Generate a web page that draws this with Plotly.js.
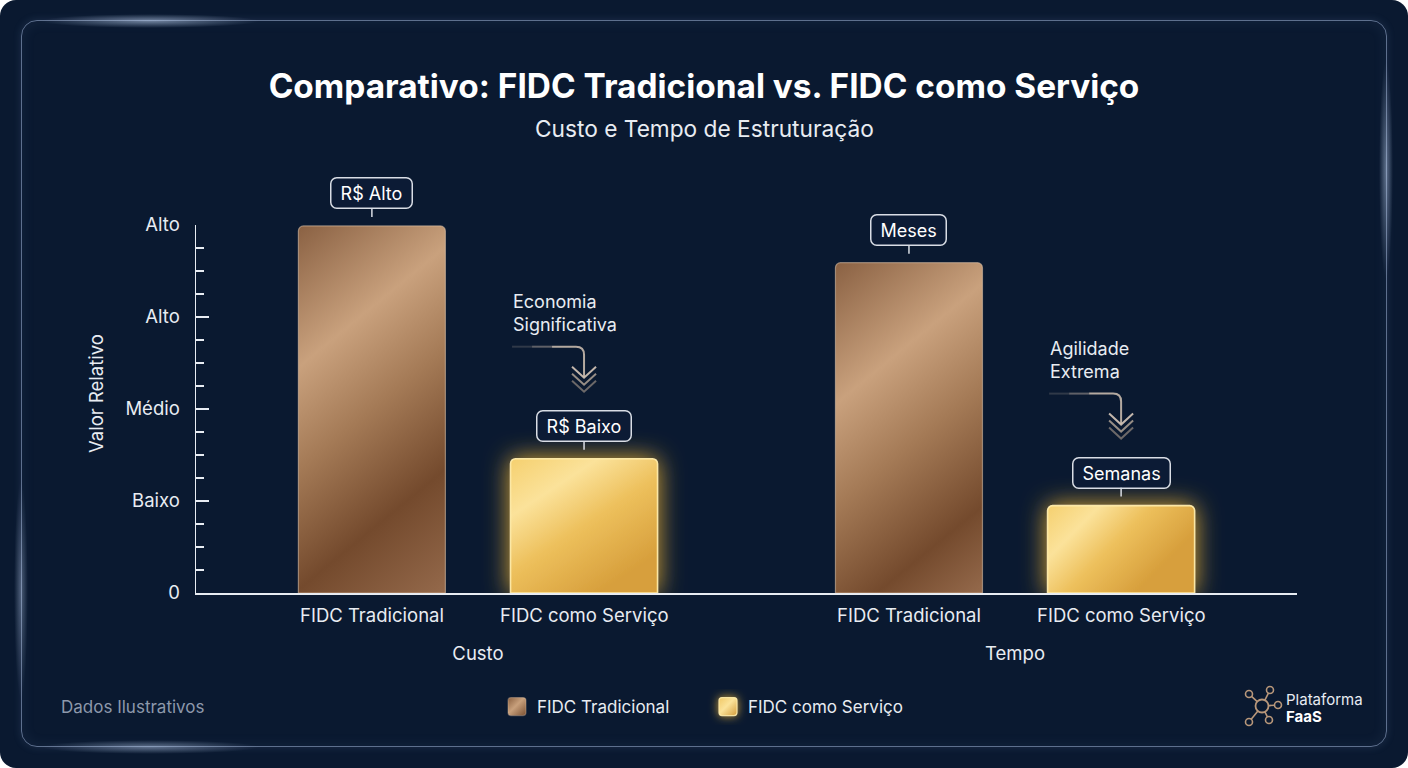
<!DOCTYPE html>
<html>
<head>
<meta charset="utf-8">
<script src="https://cdn.plot.ly/plotly-3.0.1.min.js"></script>
<style>
  html, body { margin:0; padding:0; background:#ffffff; width:1408px; height:768px; overflow:hidden; }
  #card { position:absolute; left:0; top:0; width:1408px; height:768px; border-radius:16px; background:#0a1930; overflow:hidden; }
  #frame { position:absolute; left:21px; top:20px; width:1364px; height:725px; border:1.5px solid rgba(150,170,205,0.6); border-radius:16px;
           box-shadow: 0 0 8px rgba(120,150,200,0.18), inset 0 0 14px rgba(120,150,200,0.10); }
  .glow { position:absolute; border-radius:50%; pointer-events:none; }
  #chart { position:absolute; left:0; top:0; width:1408px; height:768px; }
</style>
</head>
<body>
<div id="card">
  <div id="frame"></div>
  <div class="glow" style="left:40px;top:14px;width:220px;height:14px;background:radial-gradient(ellipse at center, rgba(190,210,240,0.55), rgba(190,210,240,0) 70%);"></div>
  <div class="glow" style="left:40px;top:740px;width:220px;height:14px;background:radial-gradient(ellipse at center, rgba(190,210,240,0.45), rgba(190,210,240,0) 70%);"></div>
  <div class="glow" style="left:1379px;top:60px;width:14px;height:220px;background:radial-gradient(ellipse at center, rgba(190,210,240,0.45), rgba(190,210,240,0) 70%);"></div>
  <div class="glow" style="left:14px;top:480px;width:14px;height:220px;background:radial-gradient(ellipse at center, rgba(190,210,240,0.35), rgba(190,210,240,0) 70%);"></div>
  <div id="chart"></div>
</div>
<script>
// ---------------- DATA ----------------
const categories = ['Custo', 'Tempo'];
const seriesNames = ['FIDC Tradicional', 'FIDC como Serviço'];
const tradicionalValues = [3.99, 3.59];
const servicoValues = [1.46, 0.95];
const calloutTradicional = ['R$ Alto', 'Meses'];
const calloutServico = ['R$ Baixo', 'Semanas'];
const highlightNotes = ['Economia<br>Significativa', 'Agilidade<br>Extrema'];
const yTickVals = [0, 1, 2, 3, 4];
const yTickText = ['0', 'Baixo', 'Médio', 'Alto', 'Alto'];
const titleText = 'Comparativo: FIDC Tradicional vs. FIDC como Serviço';
const subtitleText = 'Custo e Tempo de Estruturação';
const yAxisTitle = 'Valor Relativo';
const footnoteText = 'Dados Ilustrativos';
const brandLine1 = 'Plataforma';
const brandLine2 = 'FaaS';

// ---------------- LAYOUT CONSTANTS ----------------
const W = 1408, H = 768;
const M = {l:196, r:111, t:225, b:175};
const plotW = W - M.l - M.r, plotH = H - M.t - M.b;
const xRange = [-0.525, 1.525];
const BARGAP = 0.21, GROUPGAP = 0.307;
const pxPerUnit = plotW / (xRange[1] - xRange[0]);
const slot = (1 - BARGAP) / 2;
const offset = slot / 2;
const halfBarPx = slot * (1 - GROUPGAP) / 2 * pxPerUnit;
const FONT = 'Inter, "Noto Sans", Roboto, sans-serif';
const TXT = '#e8ecf2';
const px2paperX = (px) => (px - M.l) / plotW;
const px2paperY = (py) => (H - M.b - py) / plotH;

const traceDefs = [
  {name: seriesNames[0], y: tradicionalValues, line: 'rgba(228,198,170,0.55)', lw: 1.2, fill: '#a57b57', sign: -1, callouts: calloutTradicional},
  {name: seriesNames[1], y: servicoValues, line: 'rgba(255,236,170,0.95)', lw: 1.6, fill: '#ecc25e', sign: 1, callouts: calloutServico}
];

const data = traceDefs.map(t => ({
  type: 'bar', name: t.name, x: categories, y: t.y,
  marker: {color: t.fill, line: {color: t.line, width: t.lw}, cornerradius: 5},
  hoverinfo: 'skip'
}));

const annotations = [];
const shapes = [];

// bar sub-labels, callouts
traceDefs.forEach((t) => {
  categories.forEach((c, i) => {
    const xp = i + t.sign * offset;
    annotations.push({xref:'x', yref:'paper', x: xp, y: 0, xanchor:'center', yanchor:'top', yshift: -9, showarrow:false,
      text: t.name, font:{family:FONT, size:18.5, color:TXT}});
    annotations.push({xref:'x', yref:'y', x: xp, y: t.y[i], showarrow:true, ax:0, ay:-33, standoff:9,
      arrowhead:0, arrowwidth:1.5, arrowcolor:'#d9dde5',
      text: '\u00a0' + t.callouts[i] + '\u00a0', font:{family:FONT, size:18, color:'#ffffff'},
      bordercolor:'#d9dde5', borderwidth:1.5, borderpad:4, bgcolor:'#0c1b35'});
  });
});

// highlight notes with decorative arrows, anchored to the service bars
categories.forEach((c, i) => {
  const xp = i + offset;
  const yv = servicoValues[i];
  annotations.push({xref:'x', yref:'y', x: xp, y: yv, xshift: -halfBarPx, yshift: 146, xanchor:'left', yanchor:'middle',
    align:'left', showarrow:false, text: highlightNotes[i], font:{family:FONT, size:18, color:TXT}});
  const base = {type:'path', xref:'x', yref:'y', xsizemode:'pixel', ysizemode:'pixel', xanchor: xp, yanchor: yv, layer:'above'};
  shapes.push(Object.assign({}, base, {path:'M-72,112 L-52,112', line:{color:'rgba(200,185,170,0.2)', width:2}}));
  shapes.push(Object.assign({}, base, {path:'M-52,112 L-32,112', line:{color:'rgba(200,185,170,0.45)', width:2}}));
  shapes.push(Object.assign({}, base, {path:'M-32,112 L-8,112 Q0,112 0,104 L0,82', line:{color:'rgba(210,195,180,0.85)', width:2}}));
  shapes.push(Object.assign({}, base, {path:'M-12,92 L0,81 L12,92', line:{color:'rgba(215,200,185,0.9)', width:2}}));
  shapes.push(Object.assign({}, base, {path:'M-12,85 L0,74 L12,85', line:{color:'rgba(185,170,155,0.8)', width:2}}));
  shapes.push(Object.assign({}, base, {path:'M-12,78 L0,67 L12,78', line:{color:'rgba(150,138,128,0.7)', width:2}}));
});

// subtitle / y title / footnote / brand
annotations.push({xref:'paper', yref:'paper', x: px2paperX(704), y: px2paperY(128), xanchor:'center', yanchor:'middle', showarrow:false,
  text: subtitleText, font:{family:FONT, size:22.7, color:TXT}});
annotations.push({xref:'paper', yref:'paper', x: px2paperX(96), y: px2paperY(394), xanchor:'center', yanchor:'middle', textangle:-90, showarrow:false,
  text: yAxisTitle, font:{family:FONT, size:18.5, color:TXT}});
annotations.push({xref:'paper', yref:'paper', x: px2paperX(59), y: px2paperY(707), xanchor:'left', yanchor:'middle', showarrow:false,
  text: footnoteText, font:{family:FONT, size:17, color:'#8d98ab'}});
annotations.push({xref:'paper', yref:'paper', x: px2paperX(1284), y: px2paperY(699), xanchor:'left', yanchor:'middle', showarrow:false,
  text: brandLine1, font:{family:FONT, size:15, color:'#e8ecf2'}});
annotations.push({xref:'paper', yref:'paper', x: px2paperX(1284), y: px2paperY(716), xanchor:'left', yanchor:'middle', showarrow:false,
  text: '<b>' + brandLine2 + '</b>', font:{family:FONT, size:15, color:'#ffffff'}});

// brand icon
const iconX = px2paperX(1262), iconY = px2paperY(706);
const iconNodes = [[-13,12],[8,16],[16,1],[7,-14],[-13,-16]];
const iconColor = '#b8977a';
const ib = {xref:'paper', yref:'paper', xsizemode:'pixel', ysizemode:'pixel', xanchor: iconX, yanchor: iconY};
iconNodes.forEach(n => {
  const len = Math.hypot(n[0], n[1]);
  const ux = n[0]/len, uy = n[1]/len;
  shapes.push(Object.assign({}, ib, {type:'line', x0: ux*6.5, y0: uy*6.5, x1: n[0]-ux*3.5, y1: n[1]-uy*3.5, line:{color:iconColor, width:1.6}}));
  shapes.push(Object.assign({}, ib, {type:'circle', x0:n[0]-3.5, x1:n[0]+3.5, y0:n[1]-3.5, y1:n[1]+3.5, line:{color:iconColor, width:1.6}}));
});
shapes.push(Object.assign({}, ib, {type:'circle', x0:-6.5, x1:6.5, y0:-6.5, y1:6.5, line:{color:iconColor, width:1.8}}));

const layout = {
  width: W, height: H,
  margin: M,
  paper_bgcolor: 'rgba(0,0,0,0)', plot_bgcolor: 'rgba(0,0,0,0)',
  font: {family: FONT, color: TXT},
  title: {text: '<b>' + titleText + '</b>', x: 0.5, xref:'container', y: 1 - 86/H, yref:'container', yanchor:'middle',
    font:{family:FONT, size:33.4, color:'#ffffff'}},
  barmode: 'group', bargap: BARGAP, bargroupgap: GROUPGAP,
  xaxis: {type:'category', range: xRange, showline:true, linecolor:'#e8ecf2', linewidth:1.5, ticks:'',
    showgrid:false, zeroline:false, tickfont:{family:FONT, size:18.5, color:TXT}, ticklabelstandoff: 43, fixedrange:true},
  yaxis: {range:[0, 4], showline:true, linecolor:'#e8ecf2', linewidth:1.5, showgrid:false, zeroline:false,
    tickmode:'array', tickvals: yTickVals, ticktext: yTickText, ticks:'inside', ticklen:13, tickwidth:1.5, tickcolor:'#e8ecf2',
    minor:{tickmode:'linear', tick0:0, dtick:0.25, ticks:'inside', ticklen:8, tickwidth:1.2, tickcolor:'#e8ecf2', showgrid:false},
    tickfont:{family:FONT, size:18.5, color:TXT}, ticklabelstandoff: 11, fixedrange:true},
  showlegend: true,
  legend: {orientation:'h', x: px2paperX(497), xanchor:'left', y: px2paperY(707), yanchor:'middle',
    font:{family:FONT, size:17, color:TXT}, bgcolor:'rgba(0,0,0,0)', entrywidth: 166, entrywidthmode:'pixels'},
  annotations: annotations,
  shapes: shapes
};

function decorate(gd) {
  const ns = 'http://www.w3.org/2000/svg';
  const svg = gd.querySelector('svg.main-svg');
  let defs = svg.querySelector('defs');
  if (!defs) { defs = document.createElementNS(ns, 'defs'); svg.insertBefore(defs, svg.firstChild); }
  defs.insertAdjacentHTML('beforeend',
    '<filter id="glowGold" x="-60%" y="-60%" width="220%" height="220%">' +
      '<feGaussianBlur in="SourceAlpha" stdDeviation="12" result="blur"/>' +
      '<feFlood flood-color="#ffbf30" flood-opacity="0.85"/>' +
      '<feComposite in2="blur" operator="in" result="glow"/>' +
      '<feMerge><feMergeNode in="glow"/><feMergeNode in="SourceGraphic"/></feMerge>' +
    '</filter>' +
    '<filter id="glowSmall" x="-150%" y="-150%" width="400%" height="400%">' +
      '<feGaussianBlur in="SourceAlpha" stdDeviation="5" result="blur"/>' +
      '<feFlood flood-color="#ffc23a" flood-opacity="0.8"/>' +
      '<feComposite in2="blur" operator="in" result="glow"/>' +
      '<feMerge><feMergeNode in="glow"/><feMergeNode in="SourceGraphic"/></feMerge>' +
    '</filter>' +
    '<linearGradient id="legBrown" x1="0" y1="0" x2="1" y2="1">' +
      '<stop offset="0" stop-color="#8a6040"/><stop offset="0.45" stop-color="#c8a07c"/><stop offset="1" stop-color="#7a5032"/></linearGradient>' +
    '<linearGradient id="legGold" x1="0" y1="0" x2="1" y2="1">' +
      '<stop offset="0" stop-color="#f0c866"/><stop offset="0.45" stop-color="#fbe39a"/><stop offset="1" stop-color="#d49d3c"/></linearGradient>');

  const traces = gd.querySelectorAll('.barlayer .trace');
  traces.forEach((tr, ti) => {
    tr.querySelectorAll('.point path').forEach((p, pi) => {
      const bb = p.getBBox();
      const id = 'bg' + ti + '_' + pi;
      let g;
      if (ti === 0) {
        const nx = 0.63, ny = 0.77;
        const L = bb.width * nx + bb.height * ny;
        const s = (d) => Math.min(1, d / L).toFixed(3);
        g = '<linearGradient id="' + id + '" gradientUnits="userSpaceOnUse" x1="' + bb.x + '" y1="' + bb.y + '" x2="' + (bb.x + nx*L) + '" y2="' + (bb.y + ny*L) + '">' +
          '<stop offset="0" stop-color="#8a6143"/>' +
          '<stop offset="' + s(110) + '" stop-color="#c9a17d"/>' +
          '<stop offset="' + s(190) + '" stop-color="#a47a56"/>' +
          '<stop offset="' + s(283) + '" stop-color="#744a2d"/>' +
          '<stop offset="1" stop-color="#93684a"/></linearGradient>';
      } else {
        g = '<linearGradient id="' + id + '" gradientUnits="userSpaceOnUse" x1="' + bb.x + '" y1="' + bb.y + '" x2="' + (bb.x + bb.width*0.6) + '" y2="' + (bb.y + bb.height) + '">' +
          '<stop offset="0" stop-color="#f5d06f"/>' +
          '<stop offset="0.3" stop-color="#fbe29a"/>' +
          '<stop offset="0.6" stop-color="#edc05c"/>' +
          '<stop offset="1" stop-color="#d79f3c"/></linearGradient>';
      }
      defs.insertAdjacentHTML('beforeend', g);
      p.style.fill = 'url(#' + id + ')';
      if (ti === 1) p.setAttribute('filter', 'url(#glowGold)');
    });
  });

  // rounded callout boxes
  gd.querySelectorAll('.annotation rect.bg').forEach(r => {
    if (parseFloat(r.style.strokeWidth || r.getAttribute('stroke-width') || 0) > 0) { r.setAttribute('rx', 6); r.setAttribute('ry', 6); }
  });

  const rr = 'M-6,-9H6A3,3 0 0 1 9,-6V6A3,3 0 0 1 6,9H-6A3,3 0 0 1 -9,6V-6A3,3 0 0 1 -6,-9Z';
  gd.querySelectorAll('.legend .traces').forEach((tr, ti) => {
    tr.querySelectorAll('.legendpoints path').forEach(p => {
      p.setAttribute('d', rr);
      p.style.fill = ti === 0 ? 'url(#legBrown)' : 'url(#legGold)';
      p.style.stroke = ti === 0 ? 'rgba(228,198,170,0.6)' : 'rgba(255,236,170,0.95)';
      p.style.strokeWidth = '1.2px';
      if (ti === 1) p.setAttribute('filter', 'url(#glowSmall)');
    });
  });
}

Plotly.newPlot('chart', data, layout, {displayModeBar:false, staticPlot:true}).then(decorate);
</script>
</body>
</html>
